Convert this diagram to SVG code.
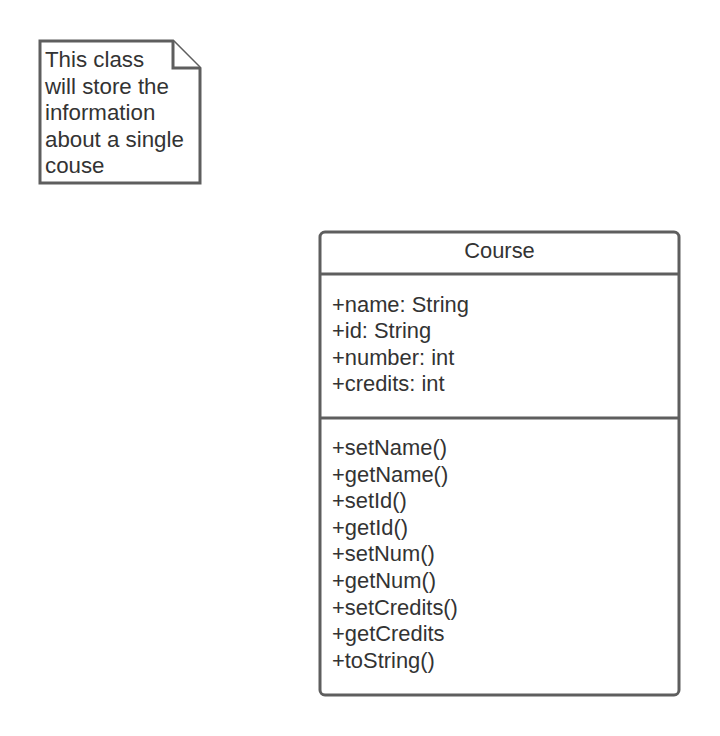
<svg xmlns="http://www.w3.org/2000/svg" width="720" height="736" viewBox="0 0 720 736">
<style>
.shape{fill:#ffffff;stroke:#5e5e5e;stroke-width:3;stroke-linejoin:miter}
.t{font-family:"Liberation Sans",Arial,sans-serif;font-size:21.9px;fill:#333333}
</style>
<rect width="720" height="736" fill="#ffffff"/>
<g id="note">
<path class="shape" d="M40,41 H173 L200,68 V183 H40 Z"/>
<path class="shape" fill="none" d="M173,41 V68 H200"/>
<text class="t" style="font-size:22.3px">
<tspan x="45" y="67">This class</tspan>
<tspan x="45" y="93.5">will store the</tspan>
<tspan x="45" y="120">information</tspan>
<tspan x="45" y="146.5">about a single</tspan>
<tspan x="45" y="173">couse</tspan>
</text>
</g>
<g id="course">
<rect class="shape" x="320" y="232" width="359" height="463" rx="5" ry="5"/>
<line class="shape" x1="320" y1="274" x2="679" y2="274"/>
<line class="shape" x1="320" y1="418" x2="679" y2="418"/>
<text class="t" x="499.5" y="258" text-anchor="middle">Course</text>
<text class="t">
<tspan x="332" y="312">+name: String</tspan>
<tspan x="332" y="338.3">+id: String</tspan>
<tspan x="332" y="364.6">+number: int</tspan>
<tspan x="332" y="390.9">+credits: int</tspan>
</text>
<text class="t">
<tspan x="332" y="455">+setName()</tspan>
<tspan x="332" y="481.6">+getName()</tspan>
<tspan x="332" y="508.2">+setId()</tspan>
<tspan x="332" y="534.8">+getId()</tspan>
<tspan x="332" y="561.4">+setNum()</tspan>
<tspan x="332" y="588">+getNum()</tspan>
<tspan x="332" y="614.6">+setCredits()</tspan>
<tspan x="332" y="641.2">+getCredits</tspan>
<tspan x="332" y="667.8">+toString()</tspan>
</text>
</g>
<g id="connectors"></g>
</svg>
